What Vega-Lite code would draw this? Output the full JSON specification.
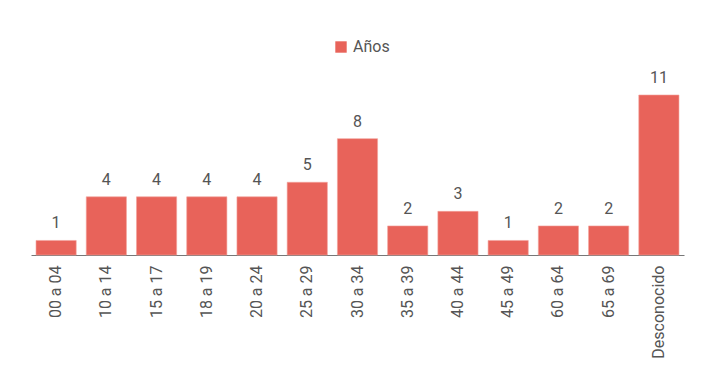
{
  "$schema": "https://vega.github.io/schema/vega-lite/v6.json",
  "width": 653,
  "height": 160,
  "autosize": {"type": "none"},
  "padding": {"left": 31, "top": 95, "right": 44, "bottom": 134},
  "background": "white",
  "data": {"values": [
    {"grupo": "00 a 04", "n": 1, "serie": "Años"},
    {"grupo": "10 a 14", "n": 4, "serie": "Años"},
    {"grupo": "15 a 17", "n": 4, "serie": "Años"},
    {"grupo": "18 a 19", "n": 4, "serie": "Años"},
    {"grupo": "20 a 24", "n": 4, "serie": "Años"},
    {"grupo": "25 a 29", "n": 5, "serie": "Años"},
    {"grupo": "30 a 34", "n": 8, "serie": "Años"},
    {"grupo": "35 a 39", "n": 2, "serie": "Años"},
    {"grupo": "40 a 44", "n": 3, "serie": "Años"},
    {"grupo": "45 a 49", "n": 1, "serie": "Años"},
    {"grupo": "60 a 64", "n": 2, "serie": "Años"},
    {"grupo": "65 a 69", "n": 2, "serie": "Años"},
    {"grupo": "Desconocido", "n": 11, "serie": "Años"}
  ]},
  "encoding": {
    "x": {
      "field": "grupo", "type": "nominal", "sort": null,
      "scale": {"paddingInner": 0.2, "paddingOuter": 0.1},
      "axis": {
        "title": null, "labelAngle": -90, "ticks": false, "domainColor": "#777777",
        "labelColor": "#555555", "labelFont": "Roboto", "labelFontSize": 16,
        "labelPadding": 10, "labelAlign": "right", "labelBaseline": "middle"
      }
    },
    "y": {
      "field": "n", "type": "quantitative",
      "scale": {"domain": [0, 11], "nice": false},
      "axis": null
    }
  },
  "layer": [
    {
      "mark": {"type": "bar", "stroke": "#f3a29c", "strokeWidth": 0.6},
      "encoding": {
        "color": {
          "field": "serie", "type": "nominal",
          "scale": {"range": ["#E8635A"]},
          "legend": {
            "title": null, "orient": "none", "legendX": 302, "legendY": -56,
            "symbolType": "square", "symbolSize": 130, "symbolStrokeWidth": 0,
            "labelFont": "Roboto", "labelFontSize": 16, "labelColor": "#555555",
            "labelOffset": 4
          }
        }
      }
    },
    {
      "mark": {"type": "text", "dy": -17, "font": "Roboto", "fontSize": 16, "color": "#555555"},
      "encoding": {"text": {"field": "n", "type": "quantitative"}}
    }
  ],
  "config": {"view": {"stroke": null}}
}
